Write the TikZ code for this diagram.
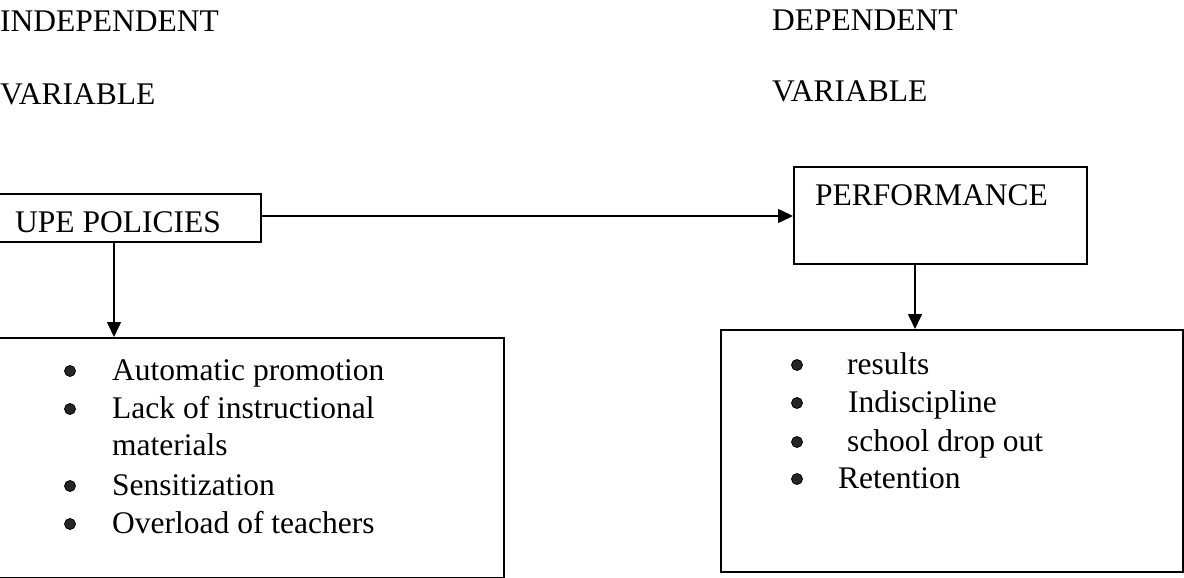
\documentclass[tikz,border=0pt]{standalone}
\usepackage{fontspec}
\setmainfont{Liberation Serif}
\usetikzlibrary{arrows.meta}
\begin{document}
\begin{tikzpicture}[x=1pt,y=-1pt,
  box/.style={draw, line width=1.6pt, inner sep=0pt, anchor=north west},
  txt/.style={anchor=base west, inner sep=0pt, font=\fontsize{31.5}{38}\selectfont},
  arr/.style={line width=1.6pt, -{Triangle[length=15pt,width=14pt]}},
  dot/.style={circle, fill=black!85, draw=black, line width=0.8pt, minimum size=11pt, inner sep=0pt}]
\useasboundingbox (0,0) rectangle (1184,578);
\clip (0,0) rectangle (1184,578);
% titles
\node[txt] (ind) at (0,32) {INDEPENDENT};
\node[txt] (indv) at (0,104) {VARIABLE};
\node[txt] (dep) at (772,31) {DEPENDENT};
\node[txt] (depv) at (772,102) {VARIABLE};
% boxes
\node[box, minimum width=266pt, minimum height=48pt] (upe) at (-6,193) {};
\node[txt] (upet) at (15,232) {UPE POLICIES};
\node[box, minimum width=293pt, minimum height=97pt] (perf) at (793,166) {};
\node[txt] (perft) at (815,205) {PERFORMANCE};
\node[box, minimum width=509pt, minimum height=240pt] (lbox) at (-6,337) {};
\node[box, minimum width=462pt, minimum height=242pt] (rbox) at (720,329) {};
% connectors
\draw[arr] (upe.east |- 0,216) -- (perf.west |- 0,216);
\coordinate (la) at (114,0);
\coordinate (ra) at (915,0);
\draw[arr] (la |- upe.south) -- (la |- lbox.north);
\draw[arr] (ra |- perf.south) -- (ra |- rbox.north);
% left list
\node[dot] (b1) at (70,371) {};
\node[txt] (l1) at (112,380) {Automatic promotion};
\node[dot] (b2) at (70,409) {};
\node[txt] (l2) at (112,418) {Lack of instructional};
\node[txt] (l2b) at (112,455) {materials};
\node[dot] (b3) at (70,486) {};
\node[txt] (l3) at (112,495) {Sensitization};
\node[dot] (b4) at (70,524) {};
\node[txt] (l4) at (112,533) {Overload of teachers};
% right list
\node[dot] (c1) at (797,365) {};
\node[txt] (r1) at (847,374) {results};
\node[dot] (c2) at (797,403) {};
\node[txt] (r2) at (848,412) {Indiscipline};
\node[dot] (c3) at (797,442) {};
\node[txt] (r3) at (847,451) {school drop out};
\node[dot] (c4) at (797,479) {};
\node[txt] (r4) at (838,488) {Retention};
\end{tikzpicture}
\end{document}
